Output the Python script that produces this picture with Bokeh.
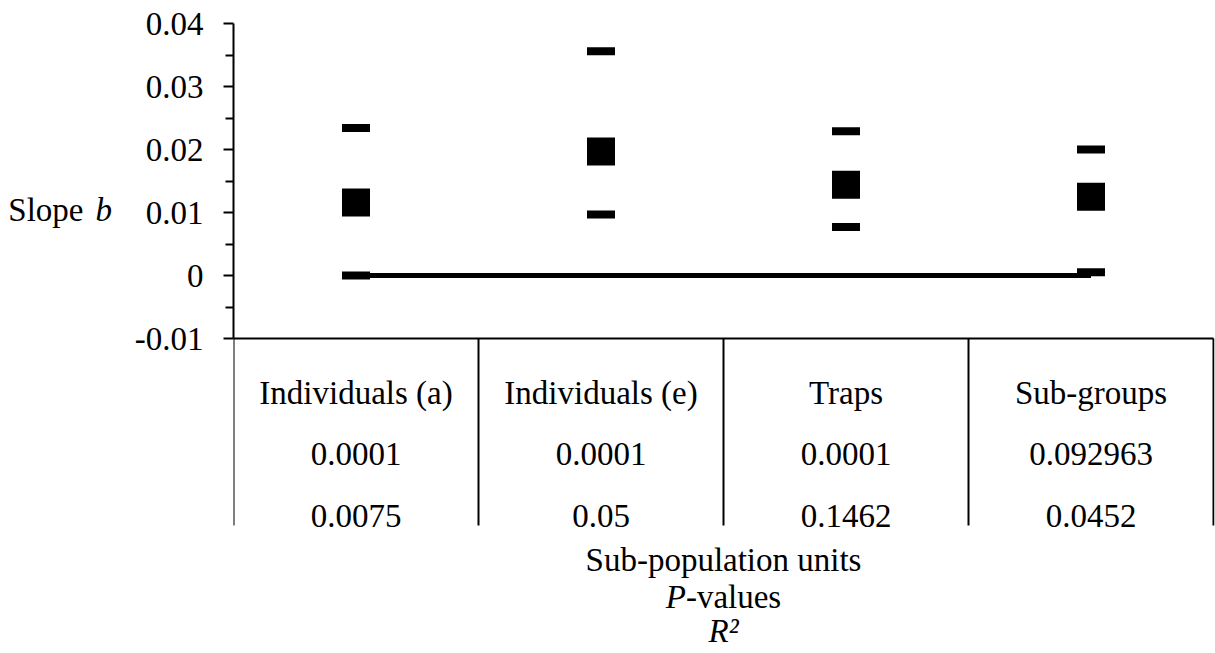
from bokeh.plotting import figure
from bokeh.layouts import row
from bokeh.models import Range1d, FixedTicker, ColumnDataSource
from bokeh.core.properties import value
from bokeh.embed import file_html
from bokeh.resources import INLINE

# ---------------- data ----------------
categories = ["Individuals (a)", "Individuals (e)", "Traps", "Sub-groups"]
slope_mean = [0.0116, 0.0197, 0.0144, 0.0125]
slope_upper = [0.0234, 0.0356, 0.0229, 0.0200]
slope_lower = [0.0000, 0.0097, 0.0077, 0.0005]
zero_line = [0.0, 0.0, 0.0, 0.0]
p_values = ["0.0001", "0.0001", "0.0001", "0.092963"]
r_squared = ["0.0075", "0.05", "0.1462", "0.0452"]
y_ticks = [-0.01, 0.0, 0.01, 0.02, 0.03, 0.04]
y_minor_ticks = [-0.005, 0.005, 0.015, 0.025, 0.035]
y_tick_labels = ["-0.01", "0", "0.01", "0.02", "0.03", "0.04"]
y_title = ("Slope", "b")
x_titles = ("Sub-population units", ("P", "-values"), "R²")

# ---------------- layout ----------------
FONT = "Liberation Serif"
FS_PX = 33
FS = f"{FS_PX}px"
TOTAL_W, TOTAL_H = 1215, 650
LEFT_W = 130
FIG_W, FIG_H = TOTAL_W - LEFT_W, TOTAL_H
B_L, B_R, B_T, B_B = 233 - LEFT_W, 1, 23, 0
frame_w = FIG_W - B_L - B_R
frame_h = FIG_H - B_T - B_B
y_top, y_axis_min = y_ticks[-1], y_ticks[0]
axis_px = 315.0
ppu_y = axis_px / (y_top - y_axis_min)
y_start = y_top - frame_h / ppu_y
col_px = 245.0
x_end = frame_w / col_px


def ydat(page_y):
    return y_top - (page_y - B_T) / ppu_y


# ----- left strip holding the y-axis title -----
lp = figure(width=LEFT_W, height=TOTAL_H, output_backend="svg", toolbar_location=None,
            x_range=Range1d(0, LEFT_W), y_range=Range1d(TOTAL_H, 0),
            min_border=0)
lp.axis.visible = False
lp.grid.visible = False
lp.outline_line_color = None
lp.text(x=[83], y=[193], text=[y_title[0]], text_align="right", text_baseline="alphabetic",
        text_font=value(FONT), text_font_size=FS, text_color="black")
lp.text(x=[95], y=[193], text=[y_title[1]], text_align="left", text_baseline="alphabetic",
        text_font=value(FONT), text_font_size=FS, text_font_style="italic", text_color="black")

# ----- main plot -----
p = figure(width=FIG_W, height=FIG_H, output_backend="svg", toolbar_location=None,
           x_range=Range1d(0, x_end), y_range=Range1d(y_start, y_top),
           min_border_left=B_L, min_border_right=B_R, min_border_top=B_T,
           min_border_bottom=B_B)
p.outline_line_color = None
p.xgrid.visible = False
p.ygrid.visible = False
p.xaxis.visible = False
p.background_fill_color = "white"
p.border_fill_color = "white"

ax = p.yaxis[0]
ax.ticker = FixedTicker(ticks=y_ticks, minor_ticks=y_minor_ticks)
ax.major_label_overrides = {t: s for t, s in zip(y_ticks, y_tick_labels)}
ax.bounds = (y_axis_min, y_top)
ax.axis_line_width = 2
ax.axis_line_color = "black"
ax.major_tick_line_width = 2
ax.minor_tick_line_width = 2
ax.major_tick_line_color = "black"
ax.minor_tick_line_color = "black"
ax.major_tick_in = 0
ax.major_tick_out = 10
ax.minor_tick_in = 0
ax.minor_tick_out = 8
ax.major_label_standoff = 20
ax.major_label_text_font = FONT
ax.major_label_text_font_size = FS
ax.major_label_text_color = "black"

xs = [i + 0.5 for i in range(len(categories))]

# zero reference line
p.line(xs, zero_line, line_width=5, line_color="black")

# upper / lower bounds as dashes
p.rect(xs, slope_upper, width=28, height=8, width_units="screen", height_units="screen",
       fill_color="black", line_color=None)
p.rect(xs, slope_lower, width=28, height=8, width_units="screen", height_units="screen",
       fill_color="black", line_color=None)
# mean squares
p.scatter(xs, slope_mean, marker="square", size=28, fill_color="black", line_color=None)

# table lines
n = len(categories)
table_bottom = ydat(525)
p.segment(x0=[0], y0=[y_axis_min], x1=[n], y1=[y_axis_min], line_width=2, line_color="black")
p.segment(x0=list(range(n + 1)), y0=[y_axis_min] * (n + 1),
          x1=list(range(n + 1)), y1=[table_bottom] * (n + 1),
          line_width=2, line_color="black")

# table texts
src = ColumnDataSource(dict(x=xs, cat=categories, pv=p_values, r2=r_squared))
for col, py in (("cat", 392), ("pv", 453), ("r2", 515)):
    p.text(x="x", y=ydat(py), text=col, source=src, text_align="center",
           text_baseline="alphabetic", text_font=value(FONT), text_font_size=FS,
           text_color="black")

xc = n / 2
p.text(x=[xc], y=[ydat(559)], text=[x_titles[0]], text_align="center",
       text_baseline="alphabetic", text_font=value(FONT), text_font_size=FS, text_color="black")
# "P-values" with italic P
w_total = 3.5 * FS_PX
w_p = 0.611 * FS_PX
off = -w_total / 2 + w_p
p.text(x=[xc], y=[ydat(596)], text=[x_titles[1][0]], text_align="right", x_offset=off,
       text_baseline="alphabetic", text_font=value(FONT), text_font_size=FS,
       text_font_style="italic", text_color="black")
p.text(x=[xc], y=[ydat(596)], text=[x_titles[1][1]], text_align="left", x_offset=off,
       text_baseline="alphabetic", text_font=value(FONT), text_font_size=FS, text_color="black")
p.text(x=[xc], y=[ydat(630)], text=[x_titles[2]], text_align="center",
       text_baseline="alphabetic", text_font=value(FONT), text_font_size=FS,
       text_font_style="italic", text_color="black")

layout = row(lp, p, spacing=0)
open("out.html", "w").write(file_html(layout, INLINE))
